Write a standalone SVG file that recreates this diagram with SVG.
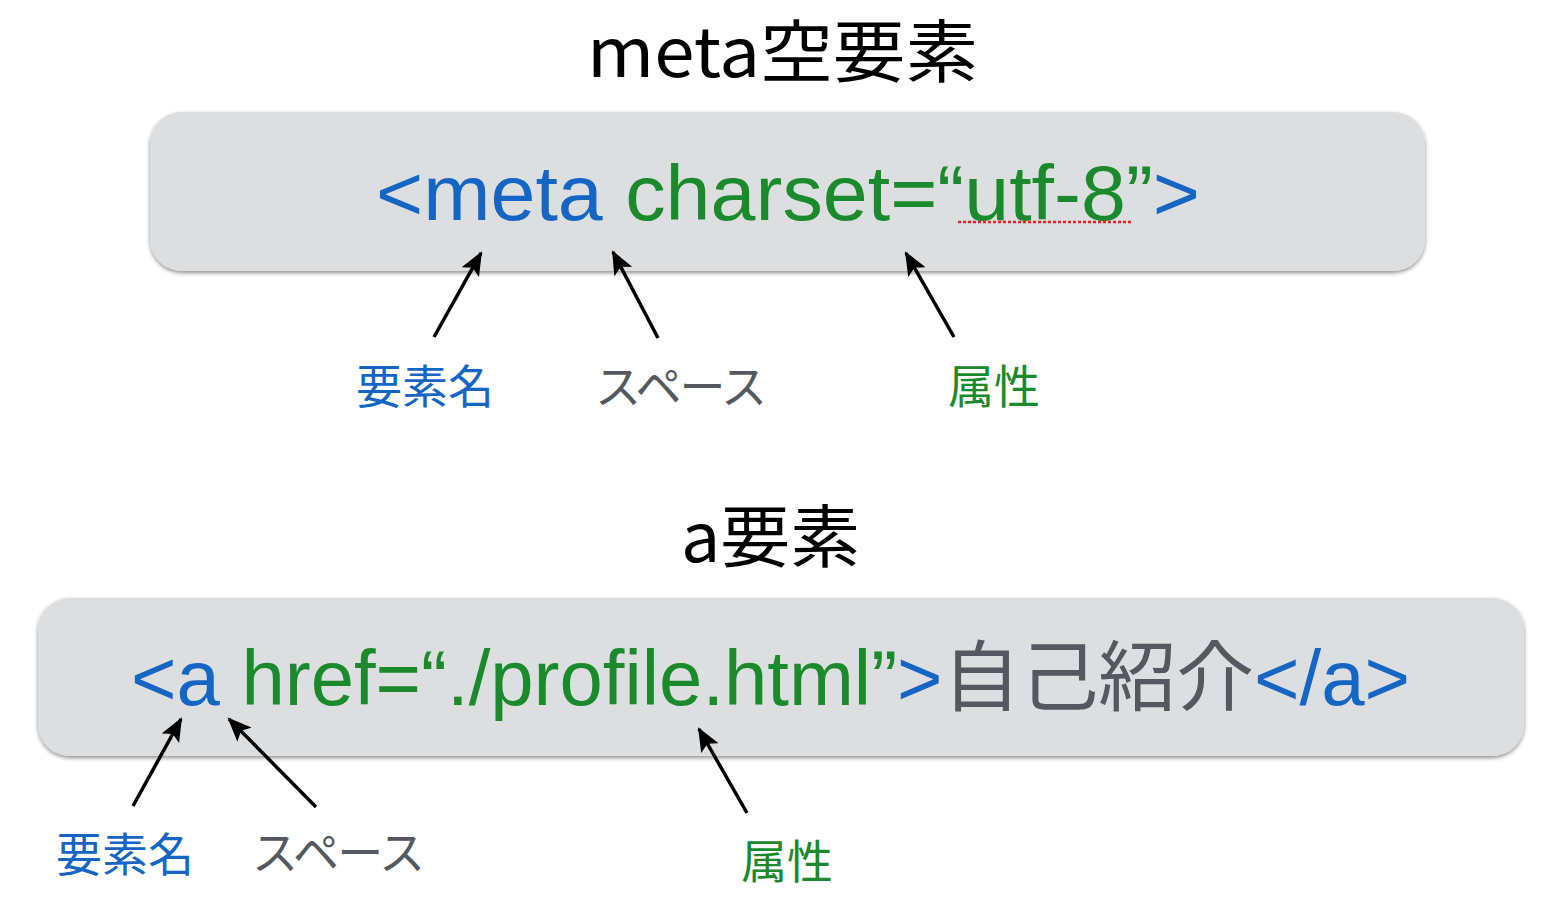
<svg xmlns="http://www.w3.org/2000/svg" width="1566" height="914" viewBox="0 0 1566 914">
<defs>
<style>
.title{font-family:"Noto Sans CJK JP","Liberation Sans",sans-serif;font-size:68px;fill:#000}
.code{font-family:"Liberation Sans","Noto Sans CJK JP",sans-serif;font-size:77px}
.lbl{font-family:"Noto Sans CJK JP",sans-serif;font-size:46px}
.blue{fill:#1565c4}
.green{fill:#1a8a2c}
.gray{fill:#55595f}
.box{fill:#dddee0}
.conn line{stroke:#000;stroke-width:3.5;marker-end:url(#ah)}
</style>
<filter id="sh" x="-5%" y="-10%" width="110%" height="125%">
<feGaussianBlur in="SourceAlpha" stdDeviation="2"/>
<feOffset dy="2" result="b"/>
<feComponentTransfer><feFuncA type="linear" slope="0.45"/></feComponentTransfer>
<feMerge><feMergeNode/><feMergeNode in="SourceGraphic"/></feMerge>
</filter>
<marker id="ah" markerUnits="userSpaceOnUse" markerWidth="26" markerHeight="22" refX="22" refY="10" orient="auto">
<path d="M0,0 L24,10 L0,20 L5,10 Z" fill="#000"/>
</marker>
</defs>
<rect width="1566" height="914" fill="#fff"/>

<g id="title-meta"><text class="title" x="587" y="77" textLength="391" lengthAdjust="spacingAndGlyphs">meta空要素</text></g>

<g id="box-meta">
<rect class="box" x="150" y="112" width="1275" height="159" rx="32" filter="url(#sh)"/>
<text class="code" x="376" y="220" textLength="824" lengthAdjust="spacingAndGlyphs"><tspan class="blue">&lt;meta</tspan><tspan class="green"> charset=“utf-8”</tspan><tspan class="blue">&gt;</tspan></text>
<line x1="958" y1="222" x2="1132" y2="222" stroke="#e8202a" stroke-width="2.5" stroke-dasharray="3 2"/>
</g>

<g id="label-meta-name"><text class="lbl blue" x="356" y="403">要素名</text></g>
<g id="label-meta-space"><text class="lbl gray" x="595" y="403" textLength="172">スペース</text></g>
<g id="label-meta-attr"><text class="lbl green" x="948" y="403">属性</text></g>

<g id="title-a"><text class="title" x="681" y="562" textLength="179" lengthAdjust="spacingAndGlyphs">a要素</text></g>

<g id="box-a">
<rect class="box" x="38" y="598" width="1486" height="158" rx="32" filter="url(#sh)"/>
<text class="code" x="131" y="705" textLength="1279" lengthAdjust="spacingAndGlyphs"><tspan class="blue">&lt;a</tspan><tspan class="green"> href=“./profile.html”</tspan><tspan class="blue">&gt;</tspan><tspan class="gray">自己紹介</tspan><tspan class="blue">&lt;/a&gt;</tspan></text>
</g>

<g id="label-a-name"><text class="lbl blue" x="56" y="871">要素名</text></g>
<g id="label-a-space"><text class="lbl gray" x="252" y="869" textLength="173">スペース</text></g>
<g id="label-a-attr"><text class="lbl green" x="741" y="878">属性</text></g>

<g id="connectors" class="conn">
<line x1="434" y1="337" x2="481" y2="253"/>
<line x1="658" y1="338" x2="613" y2="252"/>
<line x1="954" y1="337" x2="906" y2="253"/>
<line x1="133" y1="806" x2="181" y2="719"/>
<line x1="316" y1="807" x2="229" y2="719"/>
<line x1="747" y1="813" x2="699" y2="729"/>
</g>
</svg>
